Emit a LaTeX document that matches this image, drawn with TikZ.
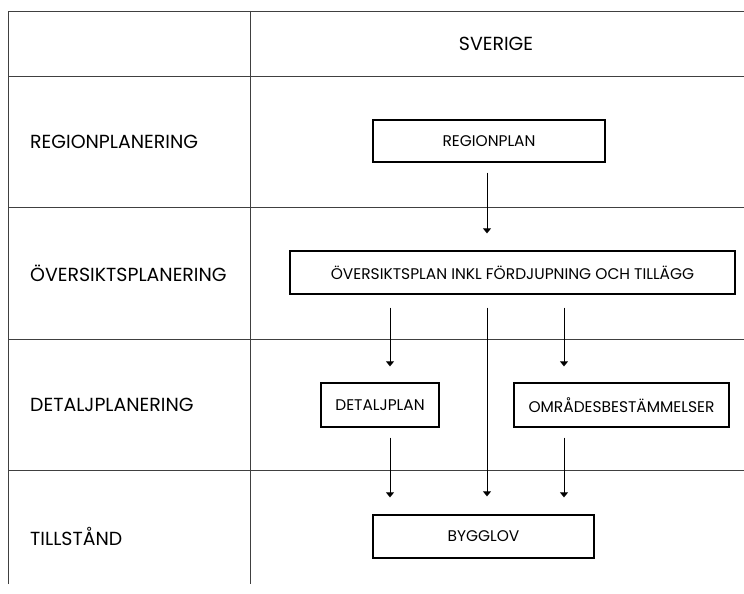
\documentclass[tikz,border=0pt]{standalone}
\usepackage{fontspec}
\setmainfont{Poppins}
\usetikzlibrary{arrows.meta}
\tikzset{
  grid/.style={draw=black!75,line width=0.8bp},
  lbl/.style={anchor=west,inner sep=0pt,font=\fontsize{19}{22}\selectfont},
  planbox/.style={draw,line width=1.3bp,inner sep=0pt,font=\fontsize{15.5}{18}\selectfont},
  arr/.style={-{Triangle[width=8bp,length=5bp]},line width=0.9bp}
}
\begin{document}
\begin{tikzpicture}[x=1bp,y=-1bp]
  \useasboundingbox (0,0) rectangle (744,594);
  % table
  \draw[grid] (8,584) -- (8,11) -- (744,11);
  \draw[grid] (250,11) -- (250,584);
  \foreach \y in {76,207,339,470}
    \draw[grid] (8,\y) -- (744,\y);
  % row labels
  \node[font=\fontsize{19}{22}\selectfont] (sverige) at (496,44) {SVERIGE};
  \node[lbl] (rpl) at (30,142) {REGIONPLANERING};
  \node[lbl] (opl) at (30,273) {ÖVERSIKTSPLANERING};
  \node[lbl] (dpl) at (30,405) {DETALJPLANERING};
  \node[lbl] (til) at (30,536) {TILLSTÅND};
  % plans
  \node[planbox,minimum width=232bp,minimum height=42bp] (region) at (489,141) {REGIONPLAN};
  \node[planbox,minimum width=445bp,minimum height=43bp] (oversikt) at (512.5,272.5) {ÖVERSIKTSPLAN INKL FÖRDJUPNING OCH TILLÄGG};
  \node[planbox,minimum width=118bp,minimum height=44bp] (detalj) at (380,405) {DETALJPLAN};
  \node[planbox,minimum width=215bp,minimum height=44bp] (omrade) at (621.5,405) {OMRÅDESBESTÄMMELSER};
  \node[planbox,minimum width=221bp,minimum height=43bp] (bygglov) at (483.5,536.5) {BYGGLOV};
  % arrow columns
  \coordinate (xa) at (390,0);
  \coordinate (xb) at (487,0);
  \coordinate (xc) at (564,0);
  \draw[arr,shorten <=10bp,shorten >=17bp] (region.south -| xb) -- (oversikt.north -| xb);
  \draw[arr,shorten <=13bp,shorten >=16bp] (oversikt.south -| xa) -- (detalj.north -| xa);
  \draw[arr,shorten <=13bp,shorten >=16bp] (oversikt.south -| xc) -- (omrade.north -| xc);
  \draw[arr,shorten <=13bp,shorten >=18bp] (oversikt.south -| xb) -- (bygglov.north -| xb);
  \draw[arr,shorten <=10bp,shorten >=17bp] (detalj.south -| xa) -- (bygglov.north -| xa);
  \draw[arr,shorten <=10bp,shorten >=17bp] (omrade.south -| xc) -- (bygglov.north -| xc);
\end{tikzpicture}
\end{document}
